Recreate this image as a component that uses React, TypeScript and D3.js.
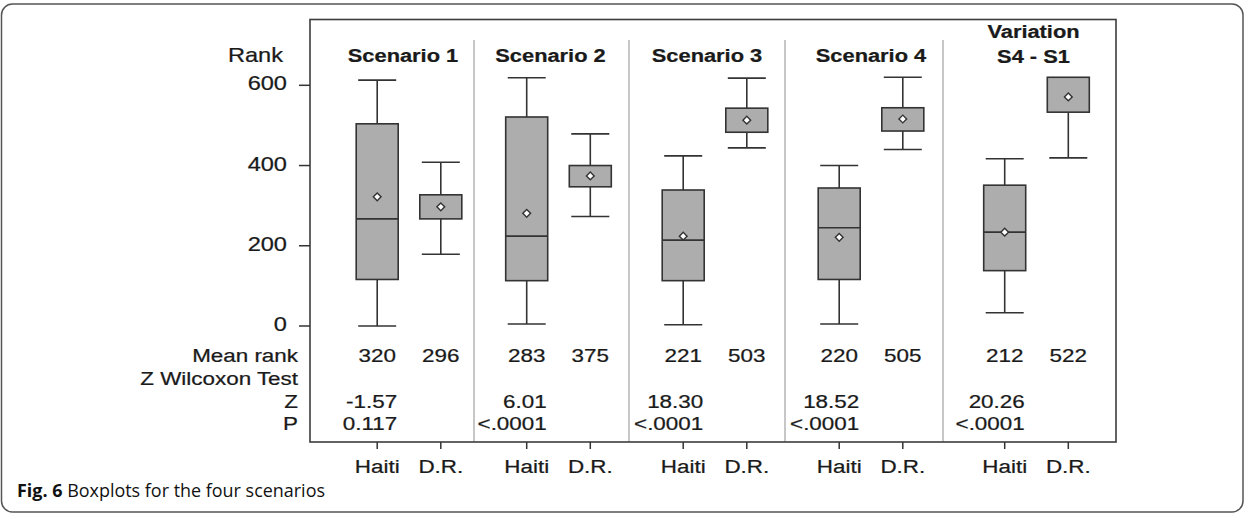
import React from "react";
import * as d3 from "d3";

// ---------- data ----------
const panels = ["Scenario 1", "Scenario 2", "Scenario 3", "Scenario 4", "Variation|S4 - S1"];
const countries = ["Haiti", "D.R."];

const haitiLow = [0, 5, 3, 5, 33];
const haitiQ1 = [116, 113, 113, 116, 138];
const haitiMedian = [267, 224, 214, 245, 234];
const haitiQ3 = [504, 521, 339, 344, 351];
const haitiHigh = [613, 619, 424, 400, 417];
const haitiMean = [322, 281, 224, 221, 234];

const drLow = [179, 273, 444, 440, 419];
const drQ1 = [267, 347, 483, 486, 533];
const drQ3 = [327, 400, 543, 544, 620];
const drHigh = [408, 479, 618, 620, 620];
const drMean = [297, 374, 513, 516, 571];

const haitiMeanRank = ["320", "283", "221", "220", "212"];
const drMeanRank = ["296", "375", "503", "505", "522"];
const zValues = ["-1.57", "6.01", "18.30", "18.52", "20.26"];
const pValues = ["0.117", "<.0001", "<.0001", "<.0001", "<.0001"];

const yTicks = [0, 200, 400, 600];
const rowLabels = ["Mean rank", "Z Wilcoxon Test", "Z", "P"];

// ---------- layout ----------
const W = 1245;
const H = 513;
const frame = { left: 310, right: 1116, top: 19.5, bottom: 442 };
const panelEdges = [310, 474, 629, 785, 943, 1116];
const groupShift = [17, 7, 8, 7, 7];
const titleShift = [-6, -8, -8, 0, -3];
const FONT = "'Liberation Sans', Arial, Helvetica, sans-serif";
const SX = 1.18;
const INK = "#1a1a1a";
const LINE = "#333333";

function T({ x, y, anchor = "start", size = 19, weight = 400, sx = SX, children }: any) {
  return (
    <text
      transform={`translate(${x},${y}) scale(${sx},1)`}
      textAnchor={anchor}
      fontSize={size}
      fontWeight={weight}
      fontFamily={FONT}
      fill={INK}
      stroke={INK}
      strokeWidth={0.25}
    >
      {children}
    </text>
  );
}

export default function App() {
  const y = d3.scaleLinear().domain([0, 600]).range([326, 85.3]);
  const xPanel = d3.scaleLinear().domain(d3.range(panelEdges.length)).range(panelEdges);
  const inner = d3.scalePoint<string>().domain(countries).range([-31.8, 31.8]);
  const groupCenter = (i: number) => xPanel(i + 0.5) + groupShift[i];
  const xc = (i: number, c: string) => groupCenter(i) + (inner(c) as number);

  const boxHalf = 21;
  const capHalf = 19;
  const diamond = d3.symbol().type(d3.symbolSquare).size(30)();

  const boxes = panels.flatMap((_, i) => [
    { i, c: "Haiti", low: haitiLow[i], q1: haitiQ1[i], med: haitiMedian[i], q3: haitiQ3[i], high: haitiHigh[i], mean: haitiMean[i] },
    { i, c: "D.R.", low: drLow[i], q1: drQ1[i], med: null as number | null, q3: drQ3[i], high: drHigh[i], mean: drMean[i] },
  ]);

  const rowY = [362, 384.5, 407.5, 429.5];

  return (
    <svg width={W} height={H} style={{ position: "absolute", left: 0, top: 0, background: "#fff" }}>
      <rect x={0} y={0} width={W} height={H} fill="#fff" />
      {/* outer rounded border */}
      <rect x={1.5} y={4} width={1241.5} height={508} rx={11} ry={11} fill="none" stroke="#555" strokeWidth={1.5} />

      {/* panel dividers */}
      {panelEdges.slice(1, -1).map((e, k) => (
        <line key={k} x1={e} x2={e} y1={40} y2={frame.bottom} stroke="#b4b4b4" strokeWidth={1.5} />
      ))}

      {/* frame */}
      <rect
        x={frame.left}
        y={frame.top}
        width={frame.right - frame.left}
        height={frame.bottom - frame.top}
        fill="none"
        stroke="#3c3c3c"
        strokeWidth={1.6}
      />

      {/* y axis */}
      {yTicks.map((t) => (
        <g key={t}>
          <line x1={299} x2={frame.left} y1={y(t)} y2={y(t)} stroke={LINE} strokeWidth={1.5} />
          <T x={287} y={y(t) + 5} anchor="end" size={20}>{t}</T>
        </g>
      ))}
      <T x={283} y={62} anchor="end" size={20}>Rank</T>

      {/* titles */}
      {panels.map((p, i) => {
        const lines = p.split("|");
        const cx = groupCenter(i) + titleShift[i];
        return lines.length === 1 ? (
          <T key={i} x={cx} y={62.3} anchor="middle" size={18.5} weight={700}>{p}</T>
        ) : (
          <g key={i}>
            <T x={cx} y={38} anchor="middle" size={18.5} weight={700}>{lines[0]}</T>
            <T x={cx} y={63.3} anchor="middle" size={18.5} weight={700}>{lines[1]}</T>
          </g>
        );
      })}

      {/* boxes */}
      {boxes.map((b, k) => {
        const x = xc(b.i, b.c);
        return (
          <g key={k}>
            <line x1={x} x2={x} y1={y(b.high)} y2={y(b.q3)} stroke={LINE} strokeWidth={1.6} />
            <line x1={x} x2={x} y1={y(b.q1)} y2={y(b.low)} stroke={LINE} strokeWidth={1.6} />
            {b.high > b.q3 && (
              <line x1={x - capHalf} x2={x + capHalf} y1={y(b.high)} y2={y(b.high)} stroke={LINE} strokeWidth={1.6} />
            )}
            <line x1={x - capHalf} x2={x + capHalf} y1={y(b.low)} y2={y(b.low)} stroke={LINE} strokeWidth={1.6} />
            <rect
              x={x - boxHalf}
              y={y(b.q3)}
              width={boxHalf * 2}
              height={y(b.q1) - y(b.q3)}
              fill="#adadad"
              stroke={LINE}
              strokeWidth={1.6}
            />
            {b.med !== null && (
              <line x1={x - boxHalf} x2={x + boxHalf} y1={y(b.med)} y2={y(b.med)} stroke={LINE} strokeWidth={1.6} />
            )}
            <path
              d={diamond as string}
              transform={`translate(${x},${y(b.mean)}) rotate(45)`}
              fill="#fff"
              stroke={LINE}
              strokeWidth={1.4}
            />
          </g>
        );
      })}

      {/* row labels */}
      {rowLabels.map((r, k) => (
        <T key={r} x={298} y={rowY[k]} anchor="end">{r}</T>
      ))}

      {/* statistics values */}
      {panels.map((_, i) => (
        <g key={i}>
          <T x={xc(i, "Haiti")} y={rowY[0]} anchor="middle">{haitiMeanRank[i]}</T>
          <T x={xc(i, "D.R.")} y={rowY[0]} anchor="middle">{drMeanRank[i]}</T>
          <T x={xc(i, "Haiti") + 20} y={rowY[2]} anchor="end">{zValues[i]}</T>
          <T x={xc(i, "Haiti") + 20} y={rowY[3]} anchor="end">{pValues[i]}</T>
        </g>
      ))}

      {/* x axis ticks and labels */}
      {panels.flatMap((_, i) =>
        countries.map((c) => (
          <g key={`${i}-${c}`}>
            <line x1={xc(i, c)} x2={xc(i, c)} y1={frame.bottom} y2={frame.bottom + 7} stroke={LINE} strokeWidth={1.5} />
            <T x={xc(i, c)} y={472.7} anchor="middle">{c}</T>
          </g>
        ))
      )}

      {/* caption */}
      <text
        transform={`translate(17,497) scale(0.97,1)`}
        fontFamily="'Open Sans', 'Noto Sans', sans-serif"
        fontSize={18.5}
        fill="#111"
      >
        <tspan fontWeight={700}>Fig. 6</tspan>
        <tspan> Boxplots for the four scenarios</tspan>
      </text>
    </svg>
  );
}
